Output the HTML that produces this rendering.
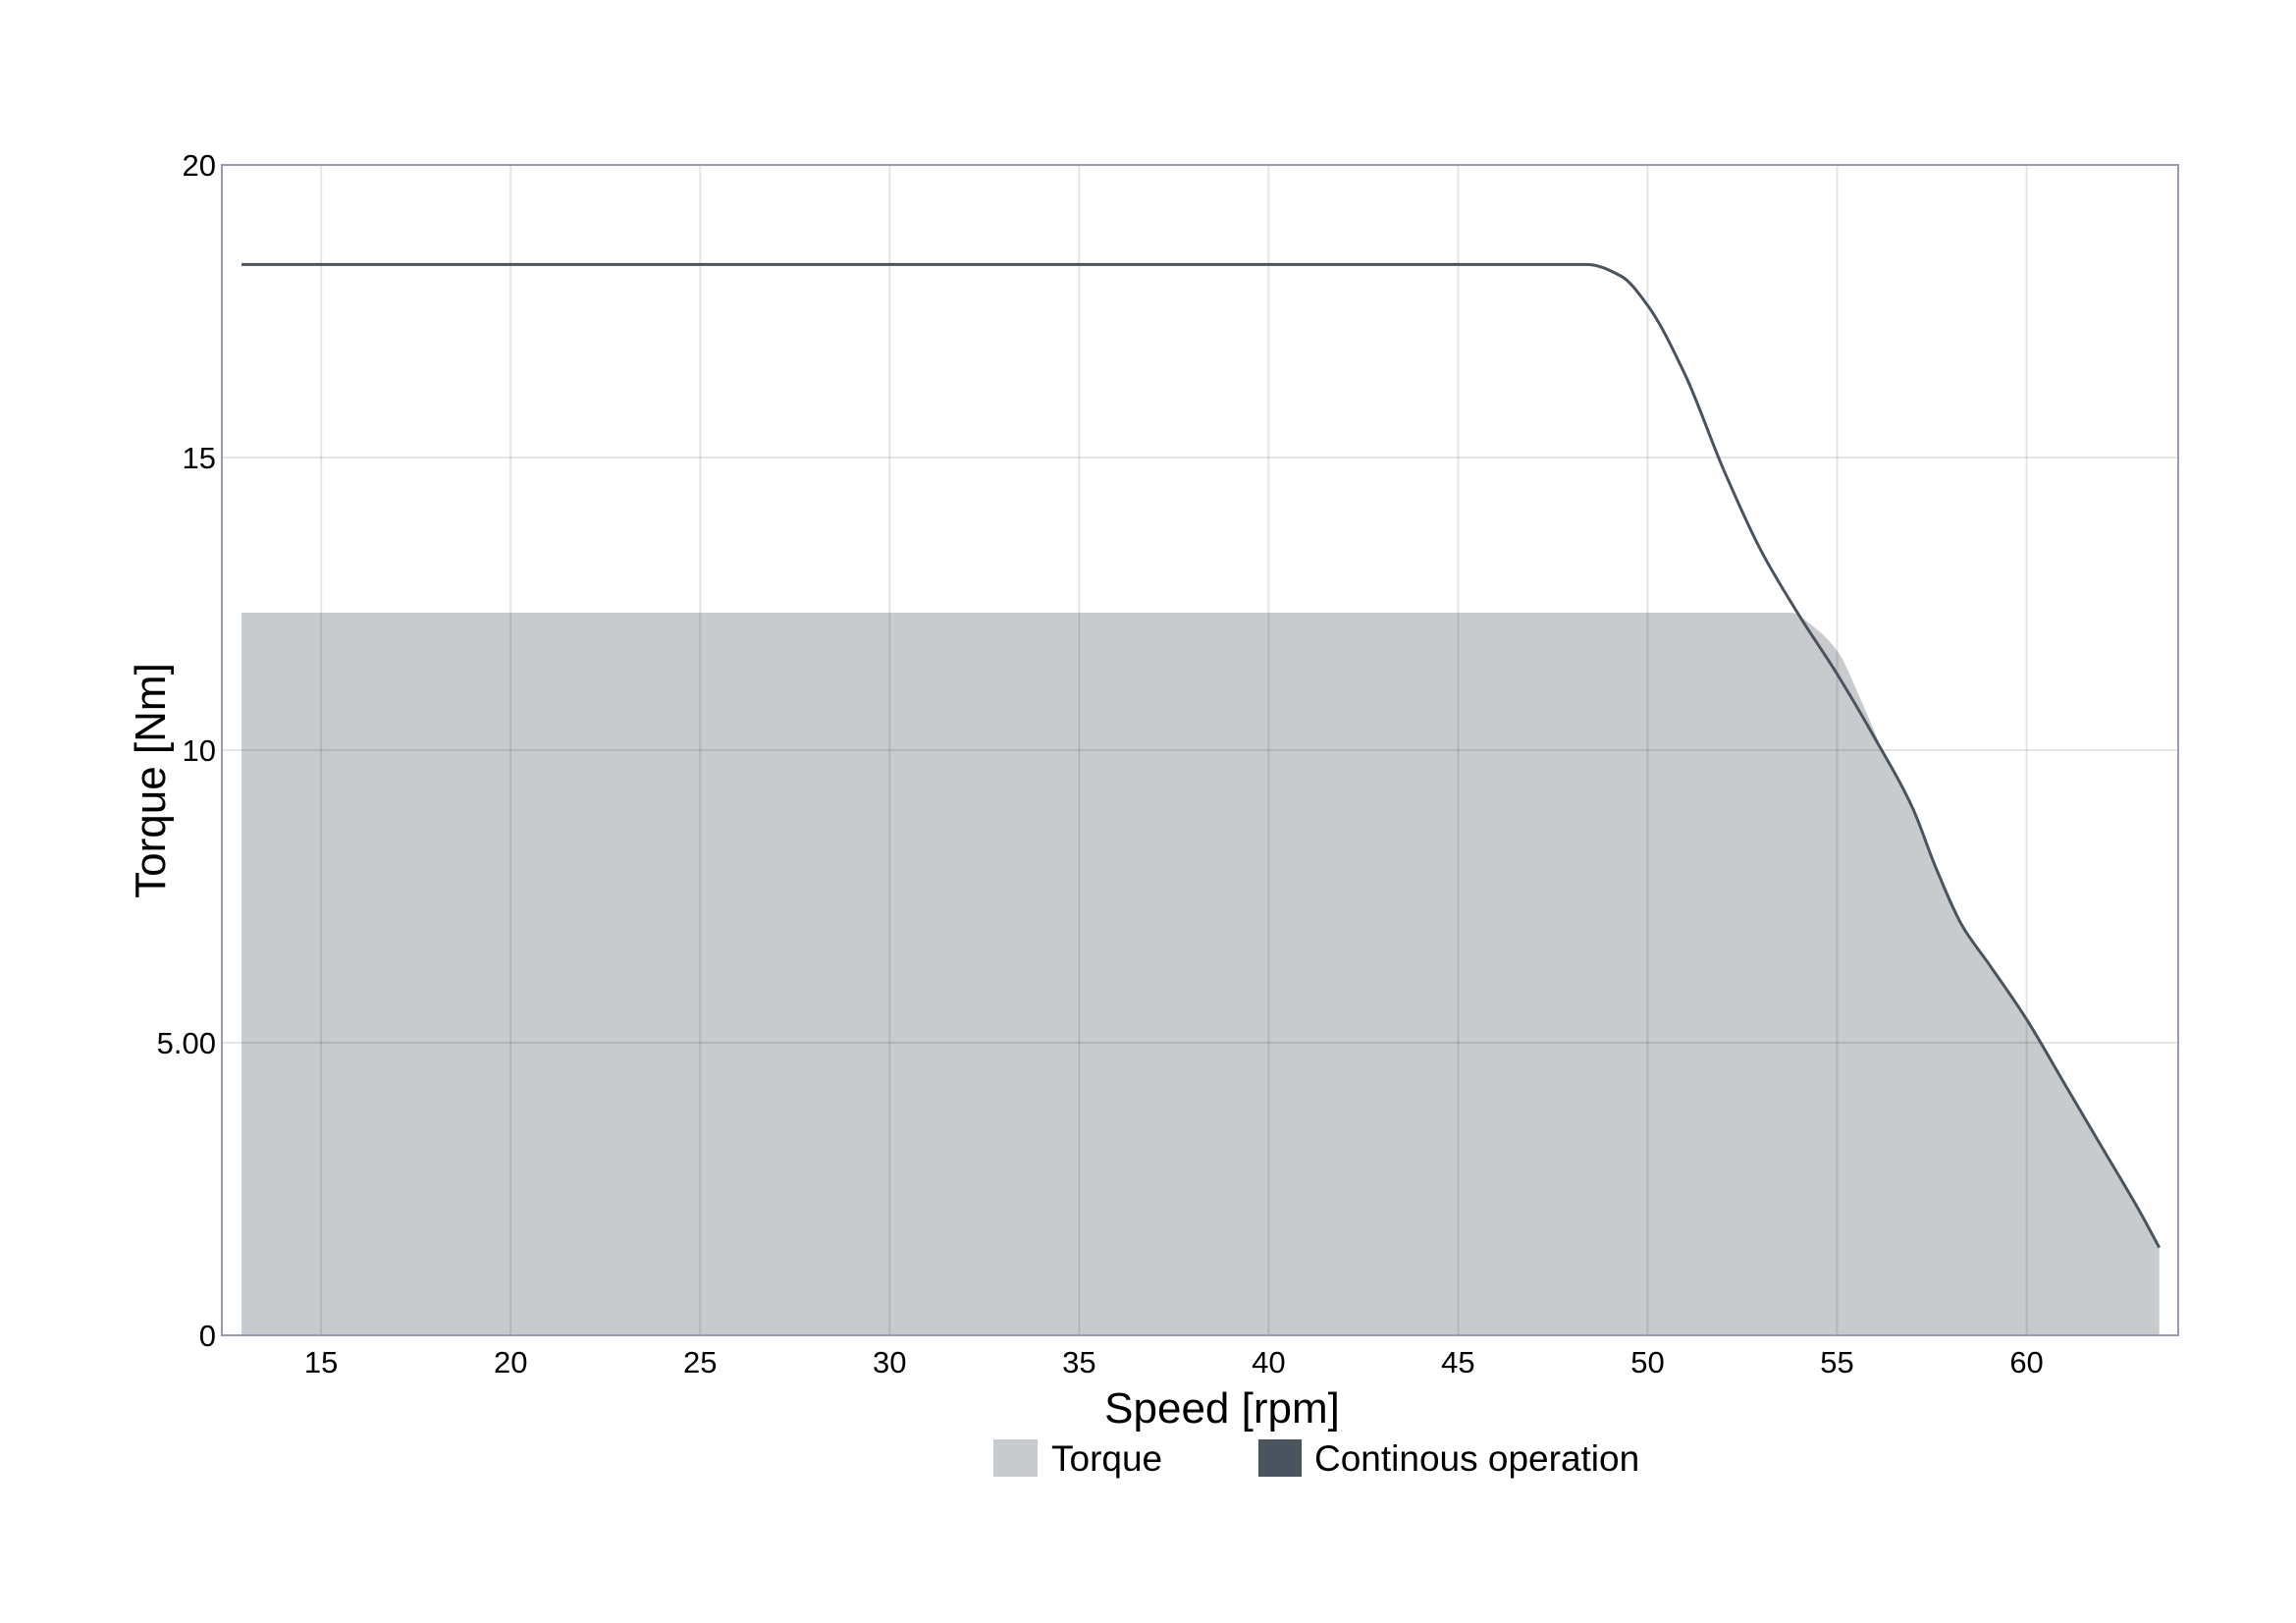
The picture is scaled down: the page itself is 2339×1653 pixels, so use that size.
<!DOCTYPE html>
<html><head><meta charset="utf-8"><style>
html,body{margin:0;padding:0;background:#fff;}
svg{display:block;font-family:"Liberation Sans",Arial,sans-serif;}
</style></head><body>
<svg id="chart" width="2339" height="1653" viewBox="0 0 2339 1653" xmlns="http://www.w3.org/2000/svg">
<g id="fillLayer"></g>
<g id="gridLayer"></g>
<g id="lineLayer"></g>
<rect x="226" y="168" width="1993" height="1192" fill="none" stroke="#9a98b8" stroke-width="2"/>
<g id="tickLayer"></g>
<text x="1245" y="1449" font-size="44" text-anchor="middle" fill="#000">Speed [rpm]</text>
<text x="168" y="795" font-size="44" text-anchor="middle" fill="#000" transform="rotate(-90 168 795)">Torque [Nm]</text>
<rect x="1012" y="1466" width="45" height="38" fill="#c7cbce"/>
<text x="1071" y="1498" font-size="37" fill="#000">Torque</text>
<rect x="1282" y="1466" width="44" height="38" fill="#4a545e"/>
<text x="1339" y="1498" font-size="37" fill="#000">Continous operation</text>
</svg>
<script>
const xTicks=[15,20,25,30,35,40,45,50,55,60];
const yTicks=[0,5,10,15,20];
const yTickLabels=["0","5.00","10","15","20"];
const lineSpeed=[12.9,48.4,49.3,50,51,52,53,54,55,56,57,57.6,58.3,59,60,61,62,63,63.5];
const lineTorque=[18.3,18.3,18.1,17.6,16.4,14.8,13.4,12.3,11.3,10.2,9.0,8.0,7.0,6.35,5.4,4.3,3.2,2.1,1.5];
const fillSpeed=[12.9,53.8,54.3,55,55.6,56.2,57,57.6,58.3,59,60,61,62,63,63.5];
const fillTorque=[12.35,12.35,12.15,11.7,10.9,10.0,9.0,8.0,7.0,6.35,5.4,4.3,3.2,2.1,1.5];
const X0=226,X1=2219,Y0=1360,Y1=168,xmin=12.38,xmax=64.0,ymin=0,ymax=20;
const sx=v=>X0+(v-xmin)/(xmax-xmin)*(X1-X0);
const sy=v=>Y0-(v-ymin)/(ymax-ymin)*(Y0-Y1);
const NS="http://www.w3.org/2000/svg";
function spline(xs,ys){
  const X=xs.map(sx),Y=ys.map(sy),n=X.length;
  const d=[],m=new Array(n);
  for(let i=0;i<n-1;i++)d.push((Y[i+1]-Y[i])/(X[i+1]-X[i]));
  m[0]=d[0];m[n-1]=d[n-2];
  for(let i=1;i<n-1;i++){
    if(d[i-1]*d[i]<=0)m[i]=0;
    else{const h0=X[i]-X[i-1],h1=X[i+1]-X[i];const w1=2*h1+h0,w2=h1+2*h0;m[i]=(w1+w2)/(w1/d[i-1]+w2/d[i]);}
  }
  let p="M"+X[0]+","+Y[0];
  for(let i=0;i<n-1;i++){
    const h=(X[i+1]-X[i])/3;
    p+=" C"+(X[i]+h)+","+(Y[i]+m[i]*h)+" "+(X[i+1]-h)+","+(Y[i+1]-m[i+1]*h)+" "+X[i+1]+","+Y[i+1];
  }
  return p;
}
const fl=document.getElementById('fillLayer');
const area=document.createElementNS(NS,'path');


area.setAttribute('d',spline(fillSpeed,fillTorque)+" L"+sx(fillSpeed[fillSpeed.length-1])+","+sy(0)+" L"+sx(fillSpeed[0])+","+sy(0)+" Z");
area.setAttribute('fill','#c7cbce');
fl.appendChild(area);
const gl=document.getElementById('gridLayer');
const tl=document.getElementById('tickLayer');
xTicks.forEach(t=>{
  const l=document.createElementNS(NS,'line');
  
  
  l.setAttribute('x1',sx(t));l.setAttribute('x2',sx(t));l.setAttribute('y1',Y1);l.setAttribute('y2',Y0);
  l.setAttribute('stroke','rgba(0,0,0,0.1)');l.setAttribute('stroke-width','2');
  gl.appendChild(l);
  const tx=document.createElementNS(NS,'text');
  
  
  tx.setAttribute('x',sx(t));tx.setAttribute('y',1398);tx.setAttribute('font-size','31');tx.setAttribute('text-anchor','middle');
  tx.textContent=t;tl.appendChild(tx);
});
yTicks.forEach((t,i)=>{
  if(t>ymin&&t<ymax){
  const l=document.createElementNS(NS,'line');
  
  
  l.setAttribute('x1',X0);l.setAttribute('x2',X1);l.setAttribute('y1',sy(t));l.setAttribute('y2',sy(t));
  l.setAttribute('stroke','rgba(0,0,0,0.1)');l.setAttribute('stroke-width','2');
  gl.appendChild(l);}
  const tx=document.createElementNS(NS,'text');
  
  
  tx.setAttribute('x',220);tx.setAttribute('y',sy(t)+11);tx.setAttribute('font-size','31');tx.setAttribute('text-anchor','end');
  tx.textContent=yTickLabels[i];tl.appendChild(tx);
});
const ll=document.getElementById('lineLayer');
const line=document.createElementNS(NS,'path');


line.setAttribute('d',spline(lineSpeed,lineTorque));
line.setAttribute('fill','none');line.setAttribute('stroke','#4a545e');line.setAttribute('stroke-width','3');
ll.appendChild(line);
</script>
</body></html>
